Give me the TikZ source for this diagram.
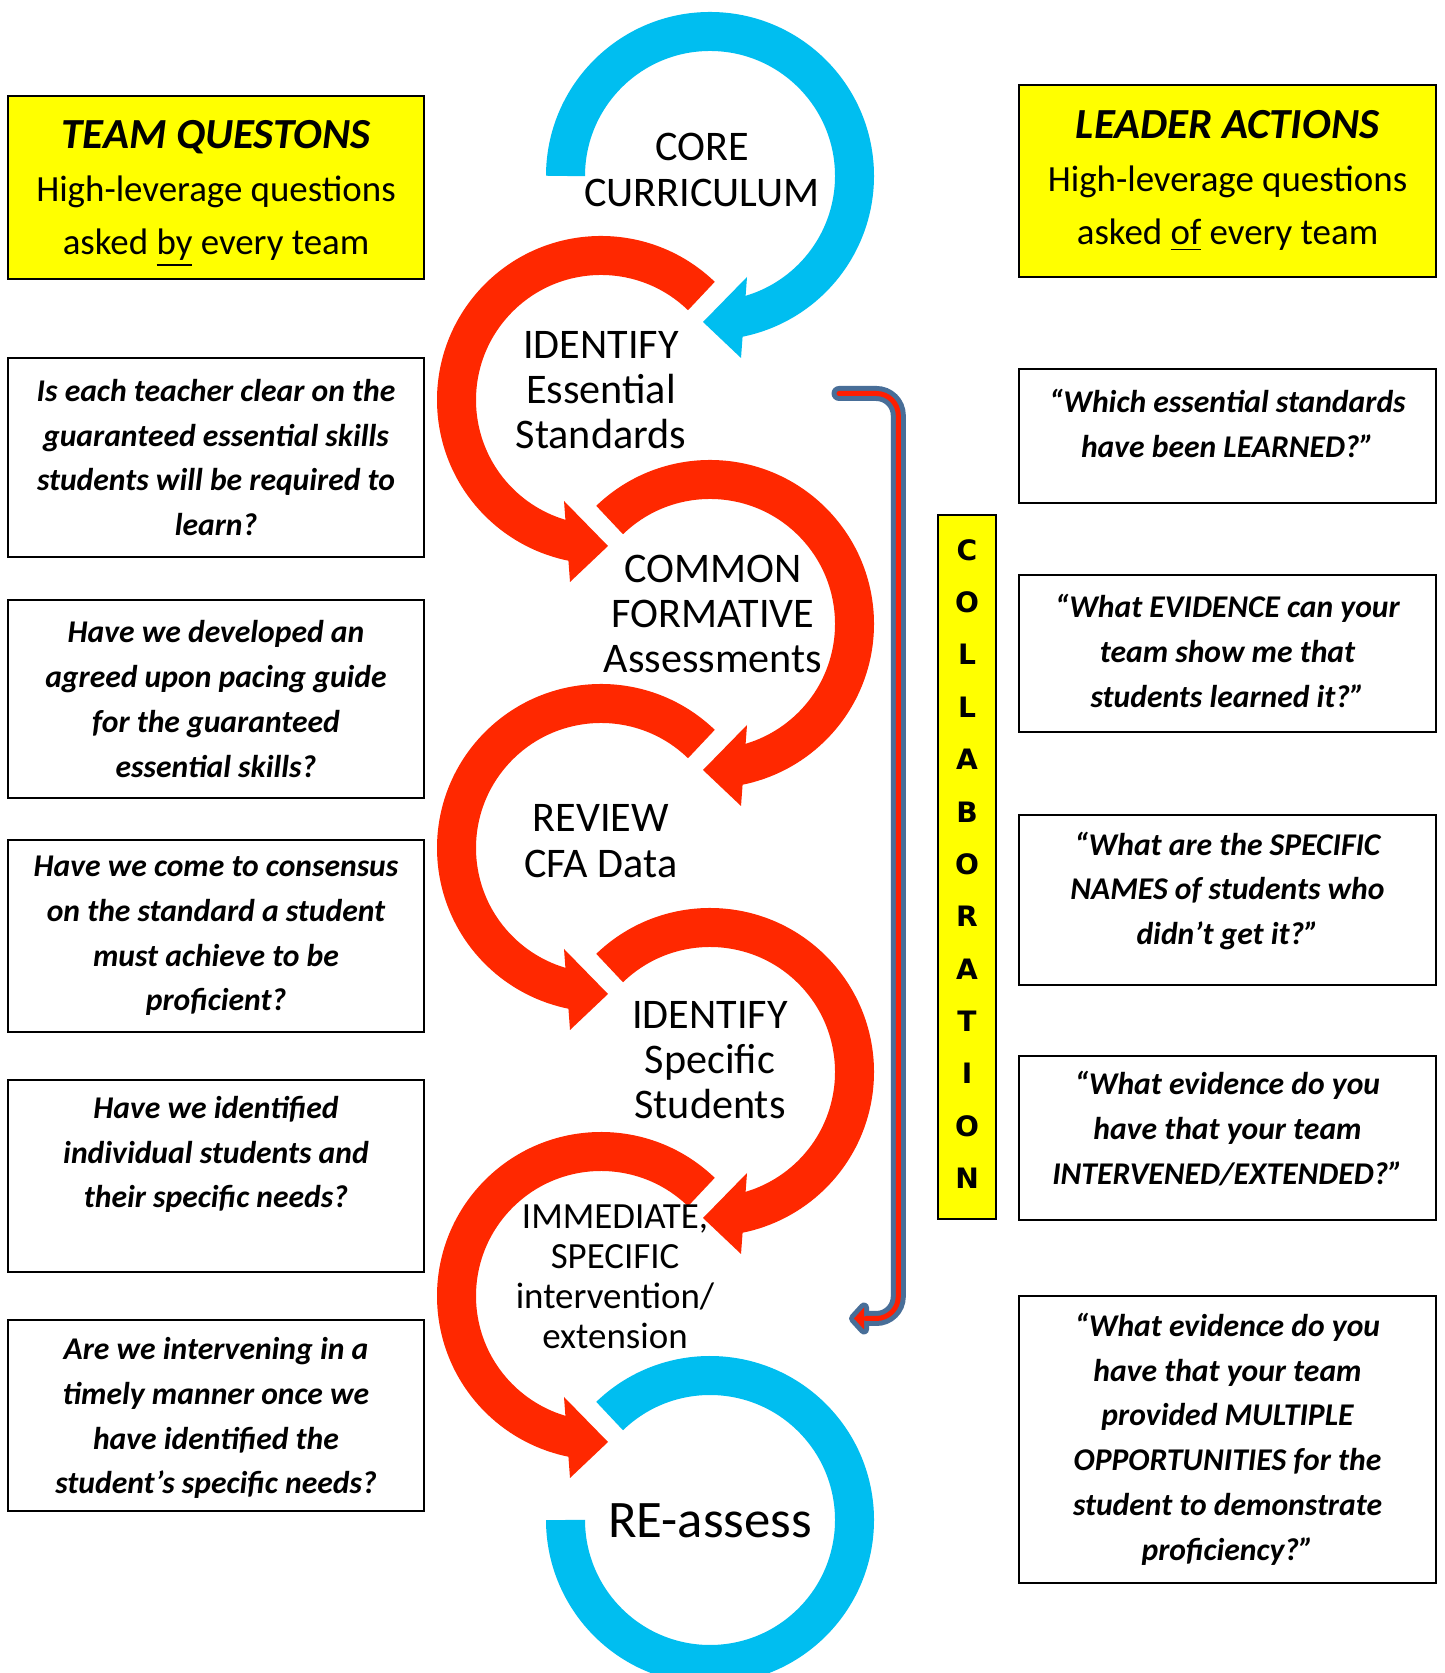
\documentclass[tikz,border=0pt]{standalone}
\usepackage{fontspec}
\setmainfont{Carlito}
\newfontfamily\collabfont{DejaVu Sans}
\usepackage{tikz}
\usetikzlibrary{calc, positioning}
\definecolor{cycblue}{RGB}{0,190,240}
\definecolor{cycred}{RGB}{255,40,0}
\definecolor{boxyellow}{RGB}{255,255,0}
\definecolor{bracketblue}{RGB}{72,110,152}
\definecolor{bracketred}{RGB}{255,30,0}
\tikzstyle{band}=[line width=3.9mm, line cap=butt]
\newcommand{\boxtitle}[1]{{\fontsize{12.2pt}{15pt}\selectfont\bfseries\itshape #1}}

\begin{document}
\begin{tikzpicture}[x=0.1mm, y=0.1mm,
  ybox/.style={rectangle, draw=black, line width=0.2mm, fill=boxyellow, inner sep=0pt,
               align=center, minimum width=41.6mm, font=\fontsize{10.5pt}{15pt}\selectfont},
  qbox/.style={rectangle, draw=black, line width=0.2mm, fill=white, inner sep=0pt,
               align=center, minimum width=41.6mm,
               font=\fontsize{9pt}{12.75pt}\selectfont\bfseries\itshape},
  steptxt/.style={align=center, inner sep=0pt, font=\fontsize{12pt}{12.9pt}\selectfont}
]
\useasboundingbox (0,0) rectangle (1444,1673);
\clip (0,0) rectangle (1444,1673);
\fill[white] (0,0) rectangle (1444,1673);

% team questions (left column)
\node[ybox, minimum height=18.25mm, text depth=0pt] (teamq) at (216,1485.6)
  {\boxtitle{TEAM QUESTONS}\\High-leverage questions\\asked \underline{by} every team};
\node[qbox, minimum height=19.9mm] (q1) at (216,1215.5)
  {Is each teacher clear on the\\guaranteed essential skills\\students will be required to\\learn?};
\node[qbox, minimum height=19.85mm] (q2) at (216,974)
  {Have we developed an\\agreed upon pacing guide\\for the guaranteed\\essential skills?};
\node[qbox, minimum height=19.2mm] (q3) at (216,737)
  {Have we come to consensus\\on the standard a student\\must achieve to be\\proficient?};
\node[qbox, minimum height=19.2mm, text depth=4.8mm] (q4) at (216,497)
  {Have we identified\\individual students and\\their specific needs?};
\node[qbox, minimum height=19.1mm, text depth=0pt] (q5) at (216,257.5)
  {Are we intervening in a\\timely manner once we\\have identified the\\student’s specific needs?};

% leader actions (right column)
\node[ybox, minimum width=41.7mm, minimum height=19.2mm] (leader) at (1227.5,1492)
  {\boxtitle{LEADER ACTIONS}\\High-leverage questions\\asked \underline{of} every team};
\node[qbox, minimum width=41.7mm, minimum height=13.4mm, text depth=2.6mm] (a1) at (1227.5,1237)
  {“Which essential standards\\have been LEARNED?”};
\node[qbox, minimum width=41.7mm, minimum height=15.7mm, text depth=0.64mm] (a2) at (1227.5,1019)
  {“What EVIDENCE can your\\team show me that\\students learned it?”};
\node[qbox, minimum width=41.7mm, minimum height=17mm, text depth=2.4mm] (a3) at (1227.5,772.8)
  {“What are the SPECIFIC\\NAMES of students who\\didn’t get it?”};
\node[qbox, minimum width=41.7mm, minimum height=16.4mm, text depth=2mm] (a4) at (1227.5,535.3)
  {“What evidence do you\\have that your team\\INTERVENED/EXTENDED?”};
\node[qbox, minimum width=41.7mm, minimum height=28.7mm] (a5) at (1227.5,233.8)
  {“What evidence do you\\have that your team\\provided MULTIPLE\\OPPORTUNITIES for the\\student to demonstrate\\proficiency?”};

% collaboration strip
\node[rectangle, draw=black, line width=0.2mm, fill=boxyellow, inner sep=0pt,
      minimum width=5.78mm, minimum height=70.34mm, align=center, text depth=0.64mm,
      font=\collabfont\bfseries\fontsize{8pt}{14.9pt}\selectfont] (collab) at (967,805.8)
  {C\\O\\L\\L\\A\\B\\O\\R\\A\\T\\I\\O\\N};

% centres of the cycle arcs
\coordinate (ccore)  at (710,1497);
\coordinate (cid)    at (601,1273);
\coordinate (ccfa)   at (710,1049);
\coordinate (crev)   at (601,825);
\coordinate (cspec)  at (710,601);
\coordinate (cint)   at (601,377);
\coordinate (cre)    at (710,153);

% core curriculum
\draw[band, cycblue] ($(ccore)+(180:144.5)$) arc[start angle=180, end angle=-79, radius=144.5];
\fill[cycblue] ($(ccore)+(37,-101)$) -- ($(ccore)+(-7,-146)$) -- ($(ccore)+(31,-182)$) -- cycle;
% identify essential standards
\draw[band, cycred] ($(cid)+(46:144.5)$) arc[start angle=46, end angle=259, radius=144.5];
\fill[cycred] ($(cid)+(-37,-101)$) -- ($(cid)+(7,-146)$) -- ($(cid)+(-31,-182)$) -- cycle;
% common formative assessments
\draw[band, cycred] ($(ccfa)+(134:144.5)$) arc[start angle=134, end angle=-79, radius=144.5];
\fill[cycred] ($(ccfa)+(37,-101)$) -- ($(ccfa)+(-7,-146)$) -- ($(ccfa)+(31,-182)$) -- cycle;
% review cfa data
\draw[band, cycred] ($(crev)+(46:144.5)$) arc[start angle=46, end angle=259, radius=144.5];
\fill[cycred] ($(crev)+(-37,-101)$) -- ($(crev)+(7,-146)$) -- ($(crev)+(-31,-182)$) -- cycle;
% identify specific students
\draw[band, cycred] ($(cspec)+(134:144.5)$) arc[start angle=134, end angle=-79, radius=144.5];
\fill[cycred] ($(cspec)+(37,-101)$) -- ($(cspec)+(-7,-146)$) -- ($(cspec)+(31,-182)$) -- cycle;
% intervention
\draw[band, cycred] ($(cint)+(46:144.5)$) arc[start angle=46, end angle=259, radius=144.5];
\fill[cycred] ($(cint)+(-37,-101)$) -- ($(cint)+(7,-146)$) -- ($(cint)+(-31,-182)$) -- cycle;
% re-assess
\draw[band, cycblue] ($(cre)+(134:144.5)$) arc[start angle=134, end angle=-180, radius=144.5];

% collaboration bracket arrow
\coordinate (brstart) at (839,1279.5);
\coordinate (brend)   at (866,354.5);
\draw[bracketblue, line width=1.5mm, line cap=round, rounded corners=2.2mm]
  (brstart) -- ++(59.3,0) -- ++(0,-925) -- (brend);
\filldraw[draw=bracketblue, fill=bracketblue, line width=1mm, line join=round]
  (brend) ++(-2,11) -- ++(-10,-11) -- ++(10,-11) -- cycle;
\draw[bracketred, line width=0.5mm, line cap=round, rounded corners=2.2mm]
  (brstart) -- ++(59.3,0) -- ++(0,-925) -- (brend);
\fill[bracketred] (brend) ++(-2,11) -- ++(-10,-11) -- ++(10,-11) -- cycle;

% step labels
\node[steptxt] (core)     at (702,1503) {CORE\\CURRICULUM};
\node[steptxt] (idess)    at (601,1283) {IDENTIFY\\Essential\\Standards};
\node[steptxt] (cfa)      at (713,1059) {COMMON\\FORMATIVE\\Assessments};
\node[steptxt] (review)   at (601,832)  {REVIEW\\CFA Data};
\node[steptxt] (idspec)   at (710,613)  {IDENTIFY\\Specific\\Students};
\node[steptxt, font=\fontsize{10.5pt}{11.4pt}\selectfont] (interv) at (615,396)
  {IMMEDIATE,\\SPECIFIC\\intervention/\\extension};
\node[steptxt, font=\fontsize{15pt}{18pt}\selectfont] (reassess) at (710,152) {RE-assess};
\end{tikzpicture}
\end{document}
